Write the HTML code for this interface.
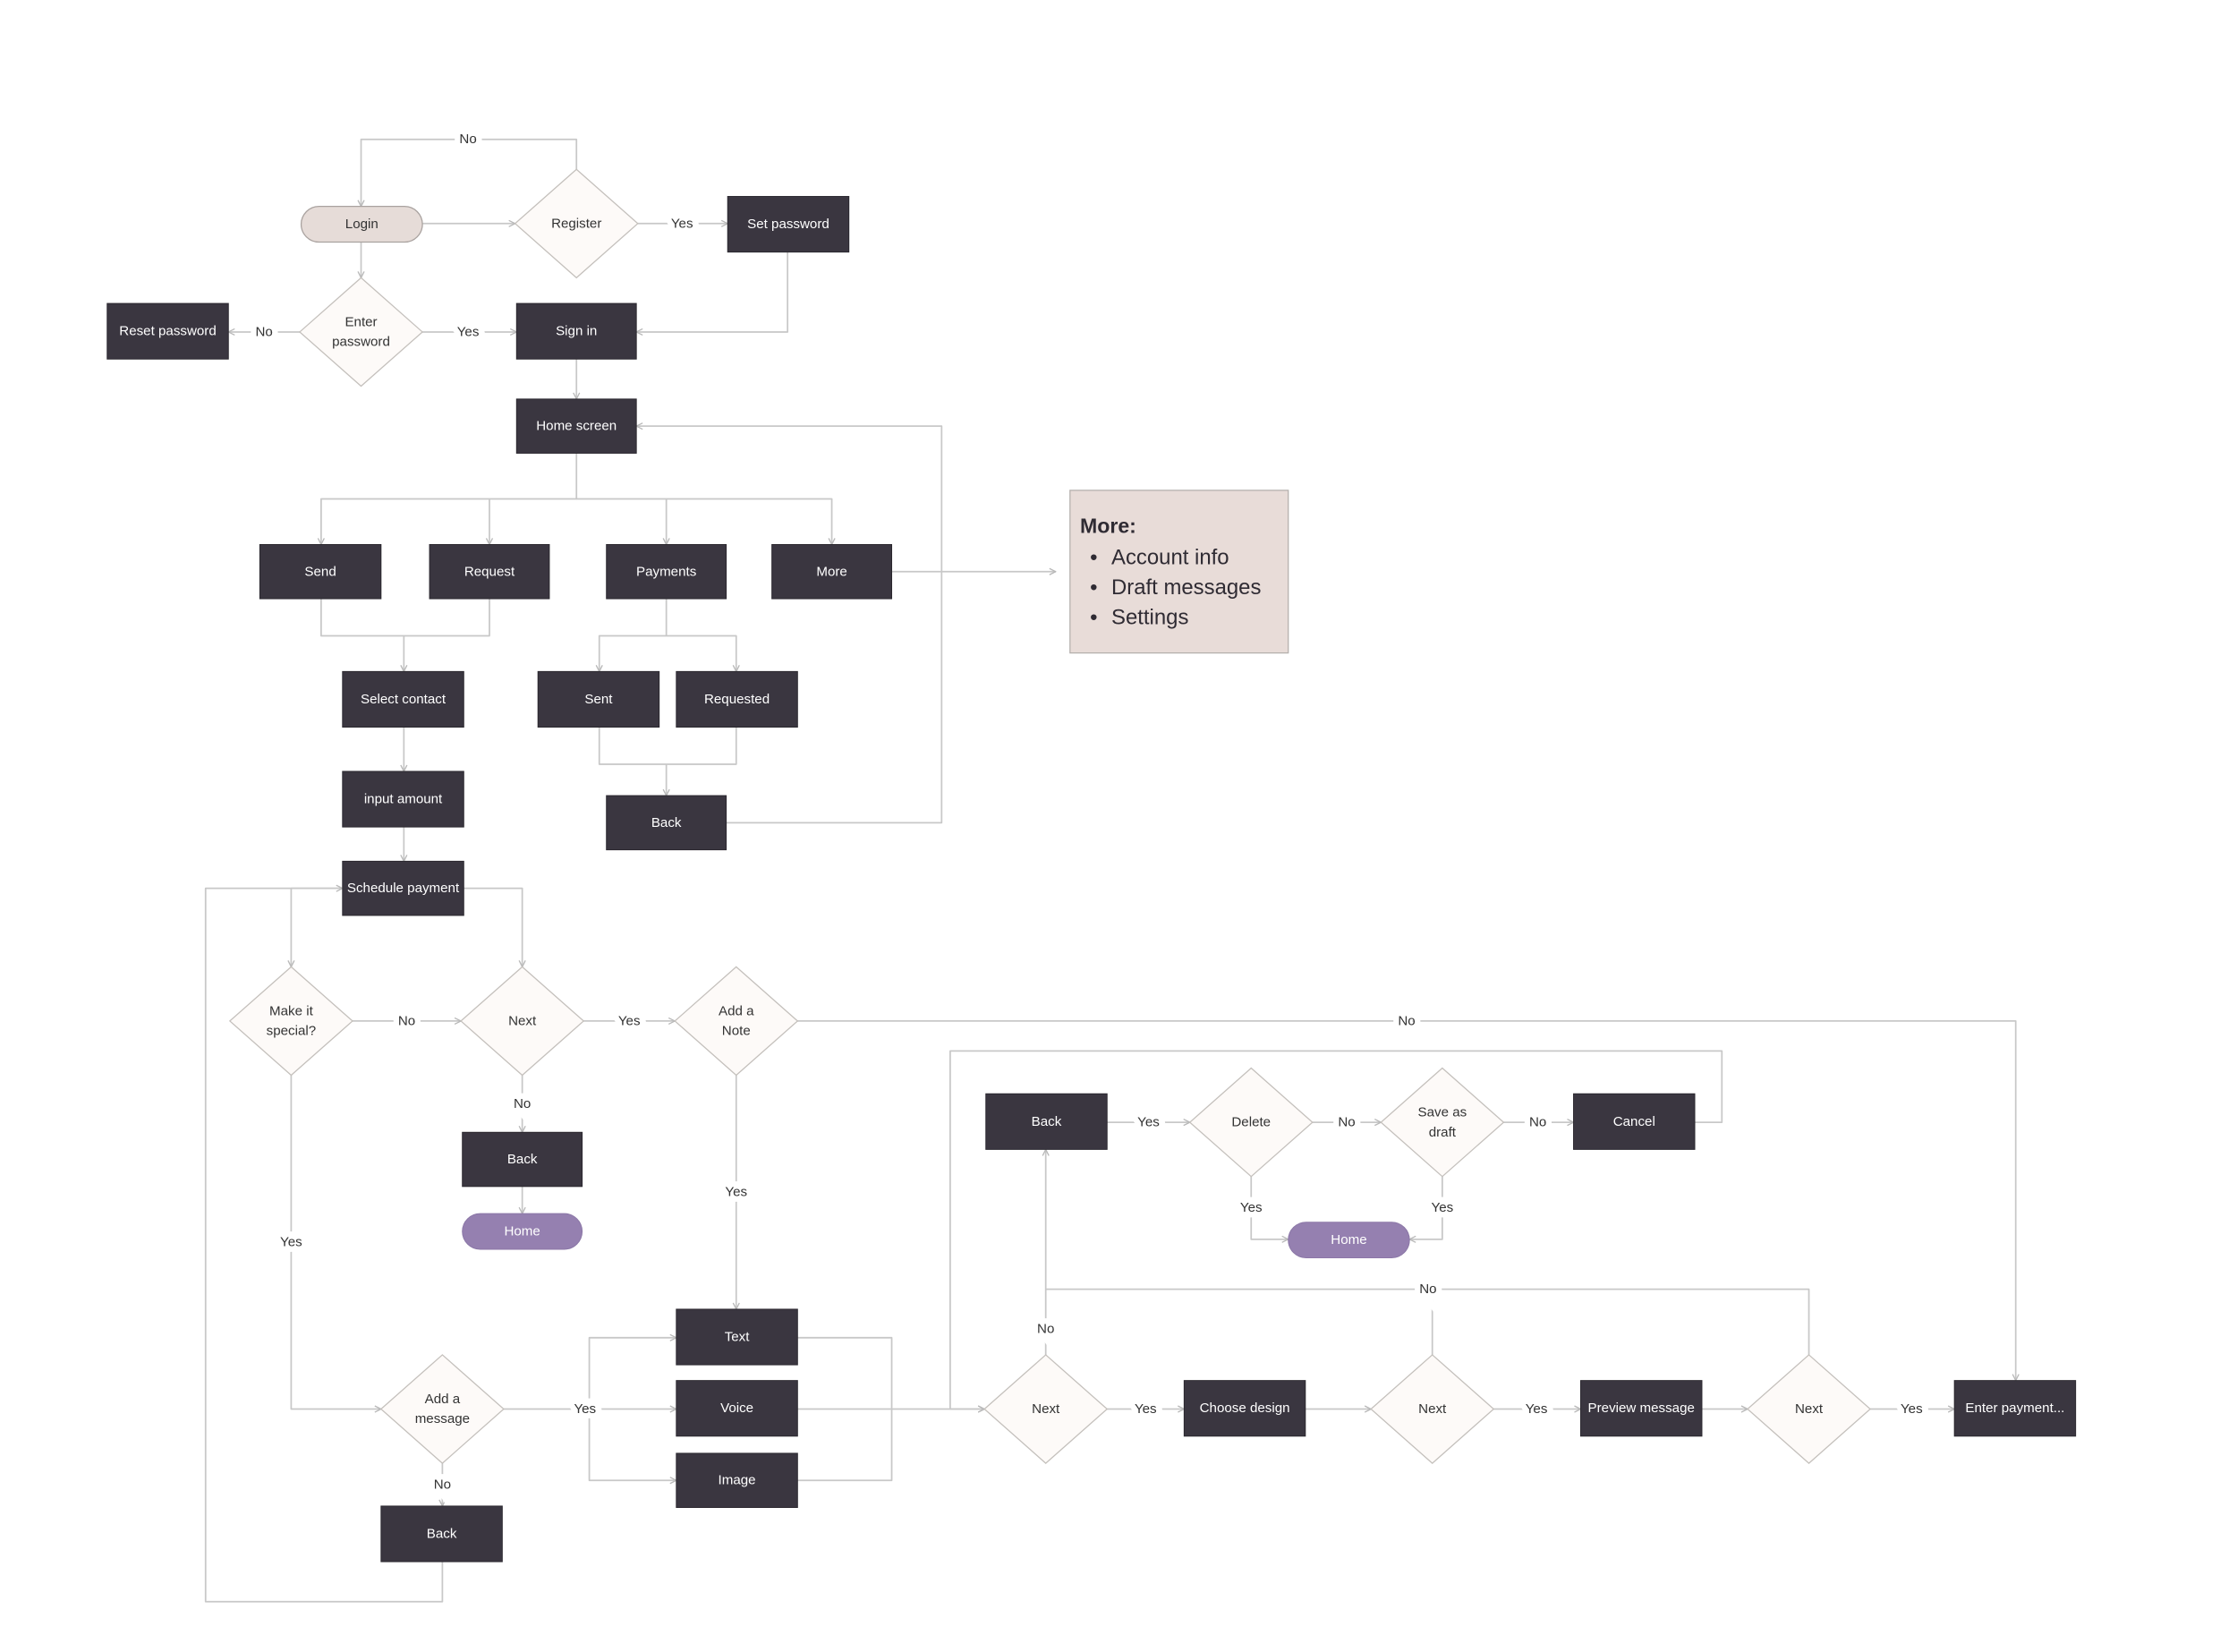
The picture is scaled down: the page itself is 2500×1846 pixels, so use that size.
<!DOCTYPE html>
<html><head><meta charset="utf-8"><style>
html,body{margin:0;padding:0;background:#fff;}
svg{display:block;}
text{font-family:"Liberation Sans",sans-serif;font-size:9.5px;text-anchor:middle;dominant-baseline:central;}
.b{fill:#3a3640;stroke:#2a272e;stroke-width:0.6}
.bt{fill:#fff}
.d{fill:#fdfaf8;stroke:#c4c0bc;stroke-width:0.8}
.dt{fill:#333}
.e{fill:none;stroke:#c8c8c8;stroke-width:1.1;stroke-linejoin:round}
.l{fill:#333;paint-order:stroke;stroke:#fff;stroke-width:8px}
.n{fill:#2f2b33;font-size:15px;text-anchor:start}
</style></head><body>
<svg width="2500" height="1846" viewBox="0 0 1568 1158" xmlns="http://www.w3.org/2000/svg">
<defs><marker id="a" viewBox="0 0 10 10" refX="9" refY="5" markerWidth="5" markerHeight="5" orient="auto"><path d="M1,1 L9,5 L1,9" fill="none" stroke="#b8b8b8" stroke-width="1.5"/></marker></defs>
<g transform="translate(0,0.7)">
<g class="e">
<path d="M404,118 V97 H253 V144" marker-end="url(#a)"/>
<path d="M296,156 H361" marker-end="url(#a)"/>
<path d="M447,156 H510" marker-end="url(#a)"/>
<path d="M552,176 V232 H446" marker-end="url(#a)"/>
<path d="M253,169 V194" marker-end="url(#a)"/>
<path d="M211,232 H160" marker-end="url(#a)"/>
<path d="M296,232 H362" marker-end="url(#a)"/>
<path d="M404,251 V279" marker-end="url(#a)"/>
<path d="M404,317 V349 H225 V381" marker-end="url(#a)"/>
<path d="M343,349 V381" marker-end="url(#a)"/>
<path d="M404,349 H467 V381" marker-end="url(#a)"/>
<path d="M467,349 H583 V381" marker-end="url(#a)"/>
<path d="M625,400 H740" marker-end="url(#a)"/>
<path d="M225,419 V445 H283 V470" marker-end="url(#a)"/>
<path d="M343,419 V445 H283"/>
<path d="M467,419 V445 H420 V470" marker-end="url(#a)"/>
<path d="M467,445 H516 V470" marker-end="url(#a)"/>
<path d="M420,509 V535 H467 V557" marker-end="url(#a)"/>
<path d="M516,509 V535 H467"/>
<path d="M509,576 H660 V298 H446" marker-end="url(#a)"/>
<path d="M283,509 V540" marker-end="url(#a)"/>
<path d="M283,579 V603" marker-end="url(#a)"/>
<path d="M240,622 H204 V677" marker-end="url(#a)"/>
<path d="M310,1094 V1122 H144 V622 H240" marker-end="url(#a)"/>
<path d="M325,622 H366 V677" marker-end="url(#a)"/>
<path d="M247,715 H323" marker-end="url(#a)"/>
<path d="M409,715 H473" marker-end="url(#a)"/>
<path d="M559,715 H1413 V967" marker-end="url(#a)"/>
<path d="M366,753 V793" marker-end="url(#a)"/>
<path d="M366,831 V850" marker-end="url(#a)"/>
<path d="M516,753 V917" marker-end="url(#a)"/>
<path d="M204,753 V987 H267" marker-end="url(#a)"/>
<path d="M353,987 H474" marker-end="url(#a)"/>
<path d="M413,987 V937 H474" marker-end="url(#a)"/>
<path d="M413,987 V1037 H474" marker-end="url(#a)"/>
<path d="M310,1025 V1055" marker-end="url(#a)"/>
<path d="M559,937 H625 V987"/>
<path d="M559,1037 H625 V987"/>
<path d="M559,987 H690" marker-end="url(#a)"/>
<path d="M1188,786 H1207 V736 H666 V987 H690" marker-end="url(#a)"/>
<path d="M776,987 H830" marker-end="url(#a)"/>
<path d="M733,949 V805" marker-end="url(#a)"/>
<path d="M733,903 H1268 V949"/>
<path d="M1004,903 V949"/>
<path d="M915,987 H961" marker-end="url(#a)"/>
<path d="M1047,987 H1108" marker-end="url(#a)"/>
<path d="M1193,987 H1225" marker-end="url(#a)"/>
<path d="M1311,987 H1370" marker-end="url(#a)"/>
<path d="M776,786 H834" marker-end="url(#a)"/>
<path d="M920,786 H968" marker-end="url(#a)"/>
<path d="M1054,786 H1103" marker-end="url(#a)"/>
<path d="M877,824 V868 H903" marker-end="url(#a)"/>
<path d="M1011,824 V868 H988" marker-end="url(#a)"/>
</g>
<g>
<text class="l" x="328" y="97">No</text>
<text class="l" x="478" y="156">Yes</text>
<text class="l" x="185" y="232">No</text>
<text class="l" x="328" y="232">Yes</text>
<text class="l" x="285" y="715">No</text>
<text class="l" x="441" y="715">Yes</text>
<text class="l" x="986" y="715">No</text>
<text class="l" x="366" y="773">No</text>
<text class="l" x="516" y="835">Yes</text>
<text class="l" x="204" y="870">Yes</text>
<text class="l" x="410" y="987">Yes</text>
<text class="l" x="310" y="1040">No</text>
<text class="l" x="803" y="987">Yes</text>
<text class="l" x="733" y="931">No</text>
<text class="l" x="1001" y="903">No</text>
<text class="l" x="1077" y="987">Yes</text>
<text class="l" x="1340" y="987">Yes</text>
<text class="l" x="805" y="786">Yes</text>
<text class="l" x="944" y="786">No</text>
<text class="l" x="1078" y="786">No</text>
<text class="l" x="877" y="846">Yes</text>
<text class="l" x="1011" y="846">Yes</text>
</g>
<rect x="211" y="144" width="85" height="25" rx="12.5" fill="#e6dcd8" stroke="#a9a29f" stroke-width="0.8"/>
<text class="dt" x="253.5" y="156.5">Login</text>
<g>
<polygon class="d" points="404,118 447,156 404,194 361,156"/><text class="dt" x="404" y="156">Register</text>
<polygon class="d" points="253,194 296,232 253,270 210,232"/><text class="dt" x="253" y="225">Enter</text><text class="dt" x="253" y="239">password</text>
<polygon class="d" points="204,677 247,715 204,753 161,715"/><text class="dt" x="204" y="708">Make it</text><text class="dt" x="204" y="722">special?</text>
<polygon class="d" points="366,677 409,715 366,753 323,715"/><text class="dt" x="366" y="715">Next</text>
<polygon class="d" points="516,677 559,715 516,753 473,715"/><text class="dt" x="516" y="708">Add a</text><text class="dt" x="516" y="722">Note</text>
<polygon class="d" points="310,949 353,987 310,1025 267,987"/><text class="dt" x="310" y="980">Add a</text><text class="dt" x="310" y="994">message</text>
<polygon class="d" points="733,949 776,987 733,1025 690,987"/><text class="dt" x="733" y="987">Next</text>
<polygon class="d" points="1004,949 1047,987 1004,1025 961,987"/><text class="dt" x="1004" y="987">Next</text>
<polygon class="d" points="1268,949 1311,987 1268,1025 1225,987"/><text class="dt" x="1268" y="987">Next</text>
<polygon class="d" points="877,748 920,786 877,824 834,786"/><text class="dt" x="877" y="786">Delete</text>
<polygon class="d" points="1011,748 1054,786 1011,824 968,786"/><text class="dt" x="1011" y="779">Save as</text><text class="dt" x="1011" y="793">draft</text>
</g>
<g>
<rect class="b" x="510" y="137" width="85" height="39"/><text class="bt" x="552.5" y="156.5">Set password</text>
<rect class="b" x="75" y="212" width="85" height="39"/><text class="bt" x="117.5" y="231.5">Reset password</text>
<rect class="b" x="362" y="212" width="84" height="39"/><text class="bt" x="404" y="231.5">Sign in</text>
<rect class="b" x="362" y="279" width="84" height="38"/><text class="bt" x="404" y="298">Home screen</text>
<rect class="b" x="182" y="381" width="85" height="38"/><text class="bt" x="224.5" y="400">Send</text>
<rect class="b" x="301" y="381" width="84" height="38"/><text class="bt" x="343" y="400">Request</text>
<rect class="b" x="425" y="381" width="84" height="38"/><text class="bt" x="467" y="400">Payments</text>
<rect class="b" x="541" y="381" width="84" height="38"/><text class="bt" x="583" y="400">More</text>
<rect class="b" x="240" y="470" width="85" height="39"/><text class="bt" x="282.5" y="489.5">Select contact</text>
<rect class="b" x="377" y="470" width="85" height="39"/><text class="bt" x="419.5" y="489.5">Sent</text>
<rect class="b" x="474" y="470" width="85" height="39"/><text class="bt" x="516.5" y="489.5">Requested</text>
<rect class="b" x="240" y="540" width="85" height="39"/><text class="bt" x="282.5" y="559.5">input amount</text>
<rect class="b" x="425" y="557" width="84" height="38"/><text class="bt" x="467" y="576">Back</text>
<rect class="b" x="240" y="603" width="85" height="38"/><text class="bt" x="282.5" y="622">Schedule payment</text>
<rect class="b" x="324" y="793" width="84" height="38"/><text class="bt" x="366" y="812">Back</text>
<rect class="b" x="474" y="917" width="85" height="39"/><text class="bt" x="516.5" y="936.5">Text</text>
<rect class="b" x="474" y="967" width="85" height="39"/><text class="bt" x="516.5" y="986.5">Voice</text>
<rect class="b" x="474" y="1018" width="85" height="38"/><text class="bt" x="516.5" y="1037">Image</text>
<rect class="b" x="267" y="1055" width="85" height="39"/><text class="bt" x="309.5" y="1074.5">Back</text>
<rect class="b" x="830" y="967" width="85" height="39"/><text class="bt" x="872.5" y="986.5">Choose design</text>
<rect class="b" x="1108" y="967" width="85" height="39"/><text class="bt" x="1150.5" y="986.5">Preview message</text>
<rect class="b" x="1370" y="967" width="85" height="39"/><text class="bt" x="1412.5" y="986.5">Enter payment...</text>
<rect class="b" x="691" y="766" width="85" height="39"/><text class="bt" x="733.5" y="785.5">Back</text>
<rect class="b" x="1103" y="766" width="85" height="39"/><text class="bt" x="1145.5" y="785.5">Cancel</text>
</g>
<rect x="324" y="850" width="84" height="25" rx="12.5" fill="#9580b0" stroke="#8a76a6" stroke-width="0.6"/><text class="bt" x="366" y="862.5">Home</text>
<rect x="903" y="856" width="85" height="25" rx="12.5" fill="#9580b0" stroke="#8a76a6" stroke-width="0.6"/><text class="bt" x="945.5" y="868.5">Home</text>
<rect x="750" y="343" width="153" height="114" fill="#e8dcd8" stroke="#b5b0ad" stroke-width="0.8"/>
<text class="n" x="757" y="368" style="font-weight:bold;font-size:14.5px">More:</text>
<text class="n" x="764" y="390" style="font-size:15px">•</text><text class="n" x="779" y="390" style="font-size:15px">Account info</text>
<text class="n" x="764" y="411" style="font-size:15px">•</text><text class="n" x="779" y="411" style="font-size:15px">Draft messages</text>
<text class="n" x="764" y="432" style="font-size:15px">•</text><text class="n" x="779" y="432" style="font-size:15px">Settings</text>
</g>
</svg>
</body></html>
